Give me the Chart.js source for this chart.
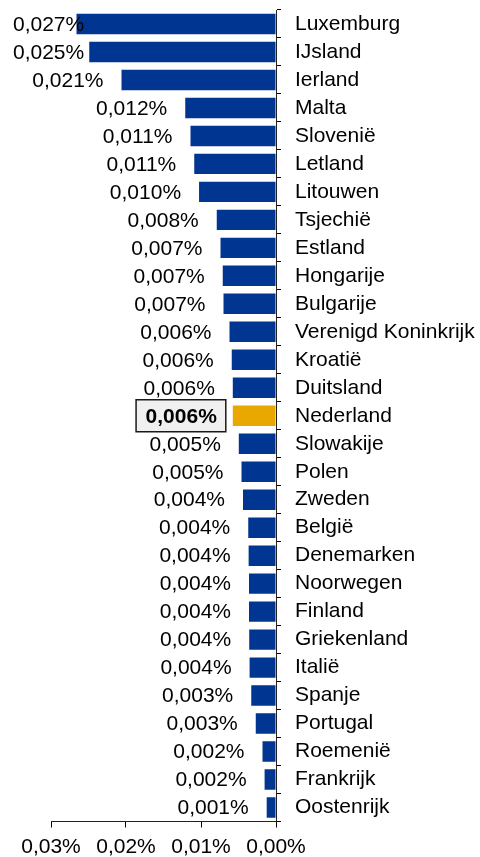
<!DOCTYPE html>
<html>
<head>
<meta charset="utf-8">
<script src="https://cdn.jsdelivr.net/npm/chart.js@4/dist/chart.umd.min.js"></script>
<style>
html,body{margin:0;padding:0;background:#fff;}
#wrap{width:480px;height:857px;}
</style>
</head>
<body>
<div id="wrap"><canvas id="c" width="480" height="857"></canvas></div>
<script>
const countries = ["Luxemburg","IJsland","Ierland","Malta","Slovenië","Letland","Litouwen","Tsjechië","Estland","Hongarije","Bulgarije","Verenigd Koninkrijk","Kroatië","Duitsland","Nederland","Slowakije","Polen","Zweden","België","Denemarken","Noorwegen","Finland","Griekenland","Italië","Spanje","Portugal","Roemenië","Frankrijk","Oostenrijk"];
// values in percent
const values = [0.0266,0.0249,0.0206,0.0121,0.0114,0.0109,0.01026,0.0079,0.0074,0.0071,0.0070,0.0062,0.0059,0.00576,0.00576,0.00496,0.0046,0.0044,0.0037,0.00365,0.0036,0.0036,0.00357,0.00352,0.0033,0.0027,0.0018,0.00152,0.00124];
const highlight = "Nederland";
const xTicks = [0, 0.01, 0.02, 0.03];

const BLUE = "#003591";
const GOLD = "#E8A800";
const FONT = "'Liberation Sans', Arial, sans-serif";
const FS = 21;

function fmtPct(v, d){ return v.toFixed(d).replace('.', ',') + '%'; }

const labelPlugin = {
  id: 'valueLabels',
  afterDatasetsDraw(chart){
    const ctx = chart.ctx;
    const meta = chart.getDatasetMeta(0);
    ctx.save();
    ctx.textBaseline = 'middle';
    ctx.textAlign = 'right';
    meta.data.forEach((bar, i) => {
      const txt = fmtPct(values[i], 3);
      const isHi = countries[i] === highlight;
      ctx.font = (isHi ? 'bold ' : '') + FS + 'px ' + FONT;
      const w = ctx.measureText(txt).width;
      if (isHi) {
        const right = bar.x - 16;
        const bx = right - w - 9.5, bw = w + 18.5;
        ctx.fillStyle = '#f0f0f0';
        ctx.fillRect(bx, bar.y - 16, bw, 32);
        ctx.lineWidth = 1.5;
        ctx.strokeStyle = '#1a1a1a';
        ctx.strokeRect(bx, bar.y - 16, bw, 32);
        ctx.fillStyle = '#000';
        ctx.fillText(txt, right, bar.y + 1);
      } else {
        const right = Math.max(bar.x - 18, 13 + w);
        ctx.fillStyle = '#000';
        ctx.fillText(txt, right, bar.y + 1);
      }
    });
    ctx.restore();
  }
};

new Chart(document.getElementById('c'), {
  type: 'bar',
  data: {
    labels: countries,
    datasets: [{
      data: values,
      backgroundColor: countries.map(c => c === highlight ? GOLD : BLUE),
      borderWidth: 0,
      barPercentage: 0.73,
      categoryPercentage: 1
    }]
  },
  options: {
    indexAxis: 'y',
    responsive: false,
    animation: false,
    devicePixelRatio: 1,
    layout: { padding: { top: 10, left: 51, right: 0, bottom: 0 } },
    plugins: { legend: { display: false }, tooltip: { enabled: false } },
    scales: {
      x: {
        reverse: true,
        min: 0, max: 0.03,
        afterBuildTicks: (axis) => { axis.ticks = xTicks.map(v => ({ value: v })); },
        afterFit: (axis) => { axis.height = 35.5; axis.paddingLeft = 0; axis.paddingRight = 0; },
        ticks: {
          color: '#000',
          font: { family: FONT, size: FS },
          padding: 7,
          maxRotation: 0,
          callback: (v) => fmtPct(v, 2)
        },
        grid: { drawOnChartArea: false, drawTicks: true, tickLength: 6, color: '#000' },
        border: { display: true, color: '#222', width: 1 }
      },
      y: {
        position: 'right',
        afterFit: (axis) => { axis.width = 204; axis.paddingTop = 0; axis.paddingBottom = 0; },
        ticks: {
          color: '#000',
          font: { family: FONT, size: FS },
          padding: 14,
          autoSkip: false
        },
        grid: { drawOnChartArea: false, drawTicks: true, tickLength: 5, color: '#000', offset: true },
        border: { display: true, color: '#222', width: 1 }
      }
    }
  },
  plugins: [labelPlugin]
});
</script>
</body>
</html>
